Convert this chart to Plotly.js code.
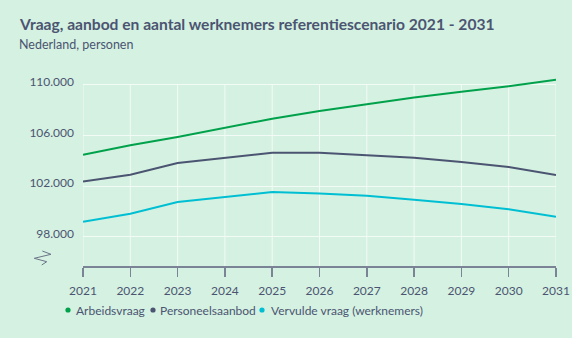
<!DOCTYPE html>
<html><head><meta charset="utf-8">
<script src="https://cdn.plot.ly/plotly-3.0.1.min.js"></script>
<style>html,body{margin:0;padding:0;background:#d5f1e1;}#c{width:572px;height:338px;}</style>
</head><body><div id="c"></div>
<script>
const years = [2021,2022,2023,2024,2025,2026,2027,2028,2029,2030,2031];
const arbeidsvraag = [104480,105220,105870,106580,107320,107920,108450,108980,109450,109880,110390];
const personeelsaanbod = [102370,102890,103820,104210,104630,104630,104450,104240,103900,103500,102870];
const vervuldeVraag = [99190,99820,100740,101110,101530,101420,101240,100920,100580,100180,99580];
const seriesNames = ['Arbeidsvraag','Personeelsaanbod','Vervulde vraag (werknemers)'];
const seriesColors = ['#00a14b','#4b5572','#00bfd3'];
const yTicks = [98000,102000,106000,110000];
const titleText = 'Vraag, aanbod en aantal werknemers referentiescenario 2021 - 2031';
const subtitleText = 'Nederland, personen';

const W=572,H=338, L=83, R=16, T=72, B=72;
const pw=W-L-R, ph=H-T-B;
const px=X=>(X-L)/pw, py=Y=>(H-B-Y)/ph;
const yMin=95700, yMax=111000, gridTop=110000;
const txt='#4b5572';
const font='Lato, "Noto Sans", sans-serif';

const vals=[arbeidsvraag,personeelsaanbod,vervuldeVraag];
const traces = vals.map((v,i)=>({x:years,y:v,type:'scatter',mode:'lines',name:seriesNames[i],
  line:{color:seriesColors[i],width:2},showlegend:false,hoverinfo:'skip'}));

const shapes = years.map(yr=>({type:'line',xref:'x',yref:'y',x0:yr,x1:yr,y0:yMin,y1:gridTop,
  line:{color:'#f3fbf6',width:1},layer:'below'}));
// axis break symbol
const zz=[[42.3,251],[51,254.3],[34.3,258.3],[46.7,261.7],[41.7,265]];
shapes.push({type:'path',xref:'paper',yref:'paper',
  path:'M'+zz.map(p=>px(p[0]).toFixed(4)+','+py(p[1]).toFixed(4)).join(' L'),
  line:{color:'#6b7488',width:1}});

const legendPos=[[68,74],[153,158],[262,269]];
const annotations=[
 {xref:'paper',yref:'paper',x:px(17),y:py(24),xanchor:'left',yanchor:'middle',showarrow:false,
  text:'<b>'+titleText+'</b>',font:{family:font,size:15.6,color:txt}},
 {xref:'paper',yref:'paper',x:px(17),y:py(44),xanchor:'left',yanchor:'middle',showarrow:false,
  text:subtitleText,font:{family:font,size:12.5,color:txt}}
];
seriesNames.forEach((n,i)=>{
  annotations.push({xref:'paper',yref:'paper',x:px(legendPos[i][1]),y:py(310),xanchor:'left',yanchor:'middle',
    showarrow:false,text:n,font:{family:font,size:12,color:txt}});
  const cx=legendPos[i][0], cy=310, r=2.6;
  shapes.push({type:'circle',xref:'paper',yref:'paper',x0:px(cx-r),x1:px(cx+r),y0:py(cy+r),y1:py(cy-r),
    fillcolor:seriesColors[i],line:{width:0}});
});

const layout={width:W,height:H,margin:{l:L,r:R,t:T,b:B},
  paper_bgcolor:'#d5f1e1',plot_bgcolor:'#d5f1e1',separators:',.',
  font:{family:font,size:12,color:txt},showlegend:false,
  xaxis:{range:[2021,2031],tickvals:years,showgrid:false,zeroline:false,showline:true,
    linecolor:'#7b8496',linewidth:1.5,ticks:'outside',ticklen:9,tickwidth:1.5,tickcolor:'#7b8496',
    ticklabelstandoff:4,tickfont:{family:font,size:12,color:txt}},
  yaxis:{range:[yMin,yMax],tickvals:yTicks,tickformat:',d',ticks:'',showgrid:true,gridcolor:'#f3fbf6',gridwidth:1,
    zeroline:false,showline:false,tickfont:{family:font,size:12,color:txt},ticklabelstandoff:8,ticklabelshift:-3},
  shapes:shapes,annotations:annotations};
Plotly.newPlot('c',traces,layout,{staticPlot:true,displayModeBar:false});
</script></body></html>
